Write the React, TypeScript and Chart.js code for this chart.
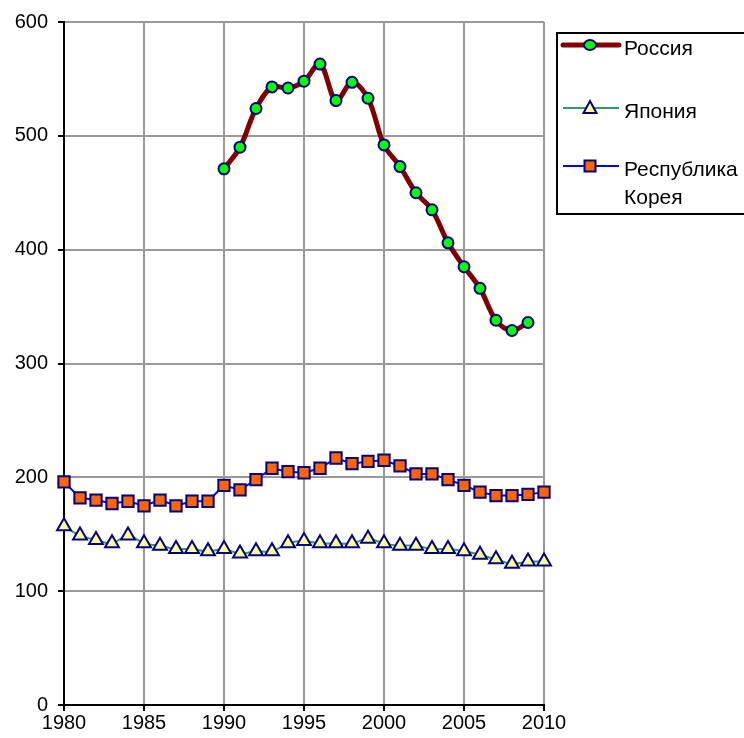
import React, { useEffect, useRef } from "react";
import { Chart, registerables } from "chart.js";

Chart.register(...registerables);

const years = [1980,1981,1982,1983,1984,1985,1986,1987,1988,1989,1990,1991,1992,1993,1994,1995,1996,1997,1998,1999,2000,2001,2002,2003,2004,2005,2006,2007,2008,2009,2010];
const russiaYears = [1990,1991,1992,1993,1994,1995,1996,1997,1998,1999,2000,2001,2002,2003,2004,2005,2006,2007,2008,2009];
const russia = [471,490,524,543,542,548,563,531,547,533,492,473,450,435,406,385,366,338,329,336];
const japan = [157,149,145,142,149,142,140,137,137,135,137,133,135,135,142,144,142,142,142,146,142,140,140,137,137,135,132,128,124,126,126];
const korea = [196,182,180,177,179,175,180,175,179,179,193,189,198,208,205,204,208,217,212,214,215,210,203,203,198,193,187,184,184,185,187];
const labels = ["Россия", "Япония", "Республика", "Корея"];
const yTicks = [0,100,200,300,400,500,600];
const xTicks = [1980,1985,1990,1995,2000,2005,2010];

const FONT = "'Liberation Sans', Arial, sans-serif";
const NAVY = "#000080";

function drawMarker(ctx: CanvasRenderingContext2D, kind: string, x: number, y: number) {
  ctx.save();
  ctx.strokeStyle = NAVY;
  ctx.lineWidth = 2;
  ctx.beginPath();
  if (kind === "circle") {
    ctx.fillStyle = "#00ff00";
    ctx.ellipse(x, y, 6, 5, 0, 0, Math.PI * 2);
  } else if (kind === "triangle") {
    ctx.fillStyle = "#ffff99";
    ctx.moveTo(x, y - 7);
    ctx.lineTo(x + 6.5, y + 5);
    ctx.lineTo(x - 6.5, y + 5);
    ctx.closePath();
  } else {
    ctx.fillStyle = "#ff6600";
    ctx.rect(x - 5.5, y - 5.5, 11, 11);
  }
  ctx.fill();
  ctx.stroke();
  ctx.restore();
}

const legendPlugin = {
  id: "customLegend",
  afterDraw(chart: any) {
    const ctx: CanvasRenderingContext2D = chart.ctx;
    ctx.save();
    ctx.strokeStyle = "#000";
    ctx.lineWidth = 2;
    ctx.strokeRect(557, 33, 220, 181);
    const rows = [
      { y: 45, color: "#800000", w: 5, kind: "circle", text: [labels[0]] },
      { y: 108, color: "#339966", w: 2, kind: "triangle", text: [labels[1]] },
      { y: 166, color: "#0000ff", w: 2, kind: "rect", text: [labels[2], labels[3]] },
    ];
    for (const r of rows) {
      ctx.strokeStyle = r.color;
      ctx.lineWidth = r.w;
      ctx.lineCap = r.w > 3 ? "round" : "butt";
      ctx.beginPath();
      ctx.moveTo(563, r.y);
      ctx.lineTo(619, r.y);
      ctx.stroke();
      drawMarker(ctx, r.kind, 590, r.y);
      ctx.fillStyle = "#000";
      ctx.font = `21px ${FONT}`;
      ctx.textBaseline = "middle";
      ctx.textAlign = "left";
      r.text.forEach((t, i) => ctx.fillText(t, 624, r.y + 4 + i * 28));
    }
    ctx.restore();
  },
};

export default function App() {
  const ref = useRef<HTMLCanvasElement>(null);
  useEffect(() => {
    const canvas = ref.current!;
    const chart = new Chart(canvas, {
      type: "line",
      data: {
        datasets: [
          {
            label: labels[0],
            data: russiaYears.map((x, i) => ({ x, y: russia[i] })),
            borderColor: "#800000",
            borderWidth: 5,
            tension: 0.35,
            pointStyle: "circle",
            pointRadius: 5.5,
            pointBackgroundColor: "#00ff00",
            pointBorderColor: NAVY,
            pointBorderWidth: 2,
          },
          {
            label: labels[1],
            data: years.map((x, i) => ({ x, y: japan[i] })),
            borderColor: "#339966",
            borderWidth: 2,
            tension: 0.35,
            pointStyle: "triangle",
            pointRadius: 8,
            pointBackgroundColor: "#ffff99",
            pointBorderColor: NAVY,
            pointBorderWidth: 2,
          },
          {
            label: labels[2] + " " + labels[3],
            data: years.map((x, i) => ({ x, y: korea[i] })),
            borderColor: "#0000ff",
            borderWidth: 2,
            tension: 0,
            pointStyle: "rect",
            pointRadius: 8,
            pointBackgroundColor: "#ff6600",
            pointBorderColor: NAVY,
            pointBorderWidth: 2,
          },
        ],
      },
      options: {
        responsive: false,
        animation: false,
        clip: false as any,
        layout: { padding: { top: 22, right: 200, left: 0, bottom: 0 } },
        plugins: { legend: { display: false }, tooltip: { enabled: false } },
        scales: {
          x: {
            type: "linear",
            min: 1980,
            max: 2010,
            afterFit: (s: any) => { s.height = 33; },
            afterBuildTicks: (s: any) => { s.ticks = xTicks.map((v) => ({ value: v })); },
            ticks: { color: "#000", font: { family: FONT, size: 20 }, padding: 0, maxRotation: 0, autoSkip: false, callback: (v: any) => String(v) },
            grid: { color: "#999999", lineWidth: 2, tickLength: 6, tickColor: "#000", tickWidth: 2 },
            border: { color: "#000", width: 2 },
          },
          y: {
            min: 0,
            max: 600,
            afterFit: (s: any) => { s.width = 64; },
            afterBuildTicks: (s: any) => { s.ticks = yTicks.map((v) => ({ value: v })); },
            ticks: { color: "#000", font: { family: FONT, size: 20 }, padding: 10, callback: (v: any) => String(v) },
            grid: { color: "#999999", lineWidth: 2, tickLength: 6, tickColor: "#000", tickWidth: 2 },
            border: { color: "#000", width: 2 },
          },
        },
      },
      plugins: [legendPlugin],
    });
    return () => chart.destroy();
  }, []);
  return (
    <div style={{ position: "absolute", left: 0, top: 0, width: 744, height: 738, background: "#fff" }}>
      <canvas ref={ref} width={744} height={738} style={{ width: 744, height: 738 }} />
    </div>
  );
}
